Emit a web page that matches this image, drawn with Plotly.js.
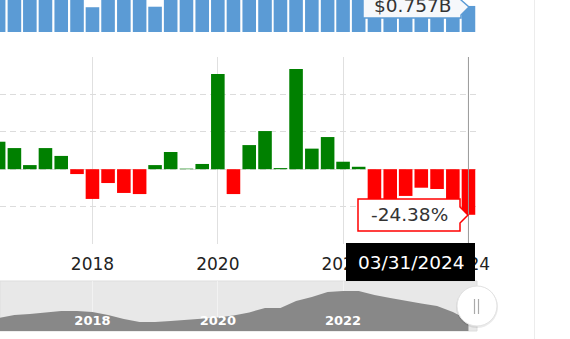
<!DOCTYPE html>
<html>
<head>
<meta charset="utf-8">
<script src="https://cdn.plot.ly/plotly-3.0.1.min.js"></script>
<style>
html,body{margin:0;padding:0;background:#fff;}
#chart{width:570px;height:339px;}
</style>
</head>
<body>
<div id="chart"></div>
<script>
// ---- data ----
const quarterDates = [
  '2016-09-30','2016-12-31','2017-03-31','2017-06-30','2017-09-30','2017-12-31',
  '2018-03-31','2018-06-30','2018-09-30','2018-12-31',
  '2019-03-31','2019-06-30','2019-09-30','2019-12-31',
  '2020-03-31','2020-06-30','2020-09-30','2020-12-31',
  '2021-03-31','2021-06-30','2021-09-30','2021-12-31',
  '2022-03-31','2022-06-30','2022-09-30','2022-12-31',
  '2023-03-31','2023-06-30','2023-09-30','2023-12-31',
  '2024-03-31'
];
// quarterly revenue, $B (most bars run off the top of the crop)
const revenueB = [
  1.02, 1.10, 0.98, 1.05, 1.09, 1.12,
  0.72, 0.97, 0.96, 0.97,
  0.735, 1.00, 0.96, 0.99,
  1.10, 0.98, 1.09, 1.19,
  1.11, 1.50, 1.21, 1.39,
  1.16, 1.52, 1.03, 1.17,
  1.00, 1.37, 0.95, 0.98,
  0.757
];
// year-over-year growth, %
const growthPct = [
  14.7, 11.3, 2.2, 11.3, 7.1, -2.6,
  -15.9, -7.4, -12.7, -13.3,
  2.2, 9.2, 0.3, 2.8,
  50.9, -13.3, 12.9, 20.4,
  0.6, 53.6, 11.0, 17.2,
  4.0, 1.3, -17.5, -16.8,
  -14.3, -9.9, -10.6, -17.0,
  -24.38
];
// navigator (trailing twelve months revenue, $B)
const navigatorB = [
  3.15, 3.30, 3.35, 3.43, 3.50, 3.50,
  3.45, 3.30, 3.10, 2.95,
  2.95, 3.00, 3.05, 3.10,
  3.18, 3.28, 3.43, 3.65,
  3.65, 4.00, 4.20, 4.45,
  4.50, 4.50, 4.30, 4.15,
  4.00, 3.88, 3.75, 3.45,
  3.05
];
const mainTickDates = ['2018-03-31','2020-03-31','2022-03-31','2024-03-31'];
const mainTickText  = ['2018','2020','2022','2024'];
const navTickDates  = ['2018-03-31','2020-03-31','2022-03-31'];
const navTickText   = ['2018','2020','2022'];
const hoverDate = '2024-03-31';
const hoverRevenueLabel = '$0.757B';
const hoverGrowthLabel = '-24.38%';
const hoverDateLabel = '03/31/2024';

// ---- layout helpers (pixel -> paper) ----
const W = 570, H = 339;
const px = v => v / W;
const py = v => 1 - v / H;
function pathPx(points) {
  return 'M' + points.map(p => px(p[0]).toFixed(5) + ',' + py(p[1]).toFixed(5)).join(' L') + ' Z';
}

const xRange = ['2016-10-08', '2024-05-14'];
const font = 'DejaVu Sans, Verdana, sans-serif';

const traces = [
  {
    type: 'bar', x: quarterDates, y: revenueB, xaxis: 'x3', yaxis: 'y3',
    marker: { color: '#5b9bd5' }, hoverinfo: 'skip'
  },
  {
    type: 'bar', x: quarterDates, y: growthPct, xaxis: 'x', yaxis: 'y2',
    marker: { color: growthPct.map(v => v >= 0 ? '#008000' : '#ff0000') },
    hoverinfo: 'skip'
  },
  {
    type: 'scatter', mode: 'lines', x: quarterDates, y: navigatorB,
    xaxis: 'x2', yaxis: 'y4', fill: 'tozeroy', fillcolor: '#888888',
    line: { color: '#888888', width: 0 }, hoverinfo: 'skip'
  }
];

const layout = {
  width: W, height: H,
  margin: { l: 0, r: 0, t: 0, b: 0, pad: 0 },
  paper_bgcolor: '#ffffff', plot_bgcolor: 'rgba(0,0,0,0)',
  showlegend: false, bargap: 0.12,
  font: { family: font, color: '#222' },
  xaxis: {
    type: 'date', range: xRange, anchor: 'y2', domain: [0, px(476)],
    tickmode: 'array', tickvals: mainTickDates, ticktext: mainTickText,
    ticks: '', showline: false, zeroline: false,
    showgrid: true, gridcolor: '#e0e0e0', gridwidth: 1,
    tickfont: { size: 17, color: '#222', family: font },
    ticklabelstandoff: 8
  },
  xaxis3: {
    type: 'date', range: xRange, anchor: 'y3', domain: [0, px(476)],
    showticklabels: false, showgrid: false, zeroline: false, ticks: ''
  },
  xaxis2: {
    type: 'date', range: xRange, anchor: 'y4', domain: [0, px(476)],
    tickmode: 'array', tickvals: navTickDates, ticktext: navTickText,
    ticks: '', showline: false, zeroline: false,
    showgrid: true, gridcolor: 'rgba(255,255,255,0.45)', layer: 'above traces',
    ticklabelposition: 'inside',
    tickfont: { size: 13, color: '#ffffff', family: font, weight: 'bold' }
  },
  yaxis3: {
    domain: [py(32), 1], range: [0, 0.93], anchor: 'x3',
    showticklabels: false, showgrid: false, zeroline: false, ticks: ''
  },
  yaxis2: {
    domain: [py(244), py(57)], range: [-40, 60], anchor: 'x',
    tickmode: 'linear', dtick: 20, showticklabels: false, ticks: '',
    showgrid: true, gridcolor: '#dcdcdc', griddash: '6px,4px', gridwidth: 1,
    zeroline: false
  },
  yaxis4: {
    domain: [py(331), py(281)], range: [2.5, 5.0], anchor: 'x2',
    showticklabels: false, showgrid: false, zeroline: false, ticks: ''
  },
  shapes: [
    // navigator background
    { type: 'rect', xref: 'paper', yref: 'paper', x0: 0, x1: px(477), y0: py(331), y1: py(281),
      fillcolor: '#e8e8e8', line: { color: '#dddddd', width: 1 }, layer: 'below' },
    // page divider
    { type: 'line', xref: 'paper', yref: 'paper', x0: px(534.5), x1: px(534.5), y0: 0, y1: 1,
      line: { color: '#ececec', width: 1 } },
    // crosshair
    { type: 'line', xref: 'x', yref: 'paper', x0: hoverDate, x1: hoverDate, y0: py(281), y1: py(57),
      line: { color: '#999999', width: 1 } },
    // revenue tooltip
    { type: 'path', xref: 'paper', yref: 'paper',
      path: pathPx([[363,-8],[461,-8],[461,0],[469,7],[461,15],[461,18],[363,18]]),
      fillcolor: '#f6f8fb', line: { color: '#5b9bd5', width: 1.5 } },
    // growth tooltip
    { type: 'path', xref: 'paper', yref: 'paper',
      path: pathPx([[358,199],[460,199],[460,207],[468,215],[460,223],[460,231],[358,231]]),
      fillcolor: '#ffffff', line: { color: '#ff0000', width: 1.5 } },
    // date label
    { type: 'rect', xref: 'paper', yref: 'paper', x0: px(346), x1: px(475), y0: py(281), y1: py(243),
      fillcolor: '#000000', line: { width: 0 } },
    // navigator handle shadow
    { type: 'circle', xref: 'paper', yref: 'paper', x0: px(456), x1: px(498), y0: py(328), y1: py(286),
      fillcolor: 'rgba(0,0,0,0.08)', line: { width: 0 } },
    // navigator handle
    { type: 'circle', xref: 'paper', yref: 'paper', x0: px(457), x1: px(497), y0: py(326), y1: py(286),
      fillcolor: '#ffffff', line: { color: '#e2e2e2', width: 1 } },
    { type: 'line', xref: 'paper', yref: 'paper', x0: px(474.5), x1: px(474.5), y0: py(314), y1: py(299),
      line: { color: '#aaaaaa', width: 1.2 } },
    { type: 'line', xref: 'paper', yref: 'paper', x0: px(478.5), x1: px(478.5), y0: py(314), y1: py(299),
      line: { color: '#aaaaaa', width: 1.2 } }
  ],
  annotations: [
    { xref: 'paper', yref: 'paper', x: px(412), y: py(5.5), text: hoverRevenueLabel, showarrow: false,
      xanchor: 'center', yanchor: 'middle', font: { size: 18.5, color: '#333', family: font } },
    { xref: 'paper', yref: 'paper', x: px(409.5), y: py(215), text: hoverGrowthLabel, showarrow: false,
      xanchor: 'center', yanchor: 'middle', font: { size: 18.5, color: '#333', family: font } },
    { xref: 'paper', yref: 'paper', x: px(411), y: py(262), text: hoverDateLabel, showarrow: false,
      xanchor: 'center', yanchor: 'middle', font: { size: 18.5, color: '#ffffff', family: font } }
  ]
};

Plotly.newPlot('chart', traces, layout, { staticPlot: true, displayModeBar: false });
</script>
</body>
</html>
